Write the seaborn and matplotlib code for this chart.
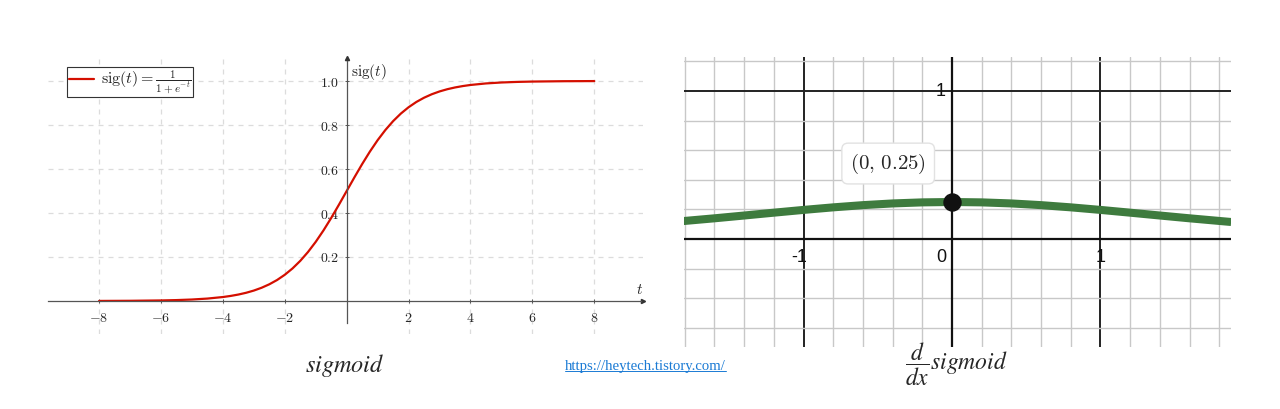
import numpy as np
import pandas as pd
import matplotlib
matplotlib.use("Agg")
import matplotlib.pyplot as plt
import matplotlib.lines as mlines
import seaborn as sns

# --- dados ---
# sigmoide (passo mais fino perto do centro)
t_vals = [-8.0, -7.0, -6.0, -5.5, -5.0, -4.5, -4.0, -3.75, -3.5, -3.25, -3.0, -2.75,
          -2.5, -2.25, -2.0, -1.75, -1.5, -1.25, -1.0, -0.75, -0.5, -0.25, 0.0,
          0.25, 0.5, 0.75, 1.0, 1.25, 1.5, 1.75, 2.0, 2.25, 2.5, 2.75, 3.0, 3.25,
          3.5, 3.75, 4.0, 4.5, 5.0, 5.5, 6.0, 7.0, 8.0]
sig_vals = [0.0003, 0.0009, 0.0025, 0.0041, 0.0067, 0.0110, 0.0180, 0.0230, 0.0293,
            0.0373, 0.0474, 0.0601, 0.0759, 0.0953, 0.1192, 0.1480, 0.1824, 0.2227,
            0.2689, 0.3208, 0.3775, 0.4378, 0.5000, 0.5622, 0.6225, 0.6792, 0.7311,
            0.7773, 0.8176, 0.8520, 0.8808, 0.9047, 0.9241, 0.9399, 0.9526, 0.9627,
            0.9707, 0.9770, 0.9820, 0.9890, 0.9933, 0.9959, 0.9975, 0.9991, 0.9997]
x_ticks_left = [-8, -6, -4, -2, 2, 4, 6, 8]
y_ticks_left = [0.2, 0.4, 0.6, 0.8, 1.0]

# derivada da sigmoide
x_deriv = [-1.81, -1.6, -1.4, -1.2, -1.0, -0.8, -0.6, -0.4, -0.2, 0.0,
           0.2, 0.4, 0.6, 0.8, 1.0, 1.2, 1.4, 1.6, 1.88]
d_vals = [0.1212, 0.1398, 0.1587, 0.1779, 0.1966, 0.2139, 0.2288, 0.2403, 0.2475, 0.2500,
          0.2475, 0.2403, 0.2288, 0.2139, 0.1966, 0.1779, 0.1587, 0.1398, 0.1149]
ponto = (0.0, 0.25)
ponto_label = r"$(0,\,0.25)$"
x_labels_right = [-1, 0, 1]
y_labels_right = [1]

sns.set_style("white")
plt.rcParams["font.family"] = ["DejaVu Serif", "DejaVu Sans"]
plt.rcParams["mathtext.fontset"] = "cm"

fig = plt.figure(figsize=(12.8, 4.09), dpi=100)

# --- 1. grafico da sigmoide ---
ax1 = fig.add_axes([0.0375, 0.1834, 0.465, 0.675])
df_sig = pd.DataFrame({"t": t_vals, "sig": sig_vals})
sns.lineplot(data=df_sig, x="t", y="sig", ax=ax1, color="#d40f00", linewidth=1.6,
             label=r"$\mathrm{sig}(t)=\frac{1}{1+e^{-t}}$")
ax1.set_xlim(-9.65, 9.58)
ax1.set_ylim(-0.15, 1.105)
ax1.set_xlabel("")
ax1.set_ylabel("")
ax1.set_xticks(x_ticks_left)
ax1.set_yticks(y_ticks_left)
ax1.set_xticklabels([r"$%d$" % v for v in x_ticks_left], fontsize=11, color="#222222")
ax1.set_yticklabels([r"$%.1f$" % v for v in y_ticks_left], fontsize=11, color="#222222")
ax1.grid(True, linestyle=(0, (4, 4)), color="#dcdcdc", linewidth=0.9)

for s in ["top", "right"]:
    ax1.spines[s].set_visible(False)
ax1.spines["bottom"].set_position(("data", 0))
ax1.spines["left"].set_position(("data", 0))
ax1.spines["bottom"].set_bounds(-9.65, 9.5)
ax1.spines["left"].set_bounds(-0.1, 1.09)
for s in ["bottom", "left"]:
    ax1.spines[s].set_color("#555555")
    ax1.spines[s].set_linewidth(0.9)
ax1.tick_params(axis="both", length=3, width=0.7, color="#555555", direction="inout",
                bottom=True, left=True)
ax1.tick_params(axis="x", pad=6)
ax1.tick_params(axis="y", pad=4)
ax1.plot(1, 0, ">", color="#333333", markersize=3, transform=ax1.get_yaxis_transform(), clip_on=False)
ax1.plot(0, 1, "^", color="#333333", markersize=3, transform=ax1.get_xaxis_transform(), clip_on=False)
ax1.text(0.15, 1.04, r"$\mathrm{sig}(t)$", fontsize=11, ha="left", va="center")
ax1.text(9.45, 0.02, r"$t$", fontsize=11, ha="center", va="bottom")

leg = ax1.legend(loc="upper left", bbox_to_anchor=(0.032, 0.968), borderaxespad=0,
                 fancybox=False, edgecolor="#333333", framealpha=1, fontsize=11.5,
                 handlelength=1.6, handletextpad=0.4, borderpad=0.1)
leg.get_frame().set_linewidth(0.8)

# --- 2. grafico da derivada (estilo GeoGebra) ---
ax2 = fig.add_axes([0.5344, 0.1516, 0.4273, 0.709])
ax2.set_xlim(-1.805, 1.879)
ax2.set_ylim(-0.73, 1.23)
ax2.set_xticks(np.arange(-1, 2, 1))
ax2.set_yticks(np.arange(0, 2, 1))
ax2.set_xticks(np.arange(-1.8, 1.9, 0.2), minor=True)
ax2.set_yticks(np.arange(-0.6, 1.3, 0.2), minor=True)
ax2.grid(True, which="minor", color="#c8c8c8", linewidth=1.0)
ax2.grid(True, which="major", color="#222222", linewidth=1.4)
ax2.tick_params(which="both", length=0, labelbottom=False, labelleft=False)
for s in ax2.spines.values():
    s.set_visible(False)
ax2.axhline(0, color="#111111", linewidth=1.6, zorder=2)
ax2.axvline(0, color="#111111", linewidth=1.6, zorder=2)

df_d = pd.DataFrame({"x": x_deriv, "d": d_vals})
sns.lineplot(data=df_d, x="x", y="d", ax=ax2, color="#3e7b3e", linewidth=5.8,
             solid_capstyle="butt", zorder=3)
ax2.set_xlabel("")
ax2.set_ylabel("")
ax2.scatter([ponto[0]], [ponto[1]], s=150, color="#111111", zorder=5)
ax2.annotate(ponto_label, xy=ponto, xytext=(-0.43, 0.51), fontsize=15,
             ha="center", va="center", zorder=6,
             bbox=dict(boxstyle="round,pad=0.4,rounding_size=0.3", fc="white",
                       ec="#e2e2e2", lw=1.0))

for v in x_labels_right:
    dx = -8 if v == 0 else (-3 if v < 0 else 0)
    ax2.annotate(str(v), xy=(v, 0), xytext=(dx, -7), textcoords="offset points",
                 ha="center", va="top", fontsize=13, family="Liberation Sans", color="#111111")
for v in y_labels_right:
    ax2.annotate(str(v), xy=(0, v), xytext=(-8, 0), textcoords="offset points",
                 ha="center", va="center", fontsize=13, family="Liberation Sans", color="#111111")

# --- 3. legendas de baixo ---
fig.text(0.2695, 0.107, r"$sigmoid$", fontsize=17.5, ha="center", va="center",
         math_fontfamily="stix")
fig.text(0.747, 0.110, r"$\dfrac{d}{dx}sigmoid$", fontsize=17, ha="center", va="center",
         math_fontfamily="stix")
url = fig.text(0.504, 0.105, "https://heytech.tistory.com/", fontsize=10.6,
               ha="center", va="center", family="Liberation Serif", color="#1a7ad4")

fig.canvas.draw()
bb = url.get_window_extent().transformed(fig.transFigure.inverted())
fig.add_artist(mlines.Line2D([bb.x0, bb.x1], [bb.y0 + 0.004, bb.y0 + 0.004],
                             color="#1a7ad4", linewidth=0.7, transform=fig.transFigure))

fig.savefig("out.png", dpi=100)
